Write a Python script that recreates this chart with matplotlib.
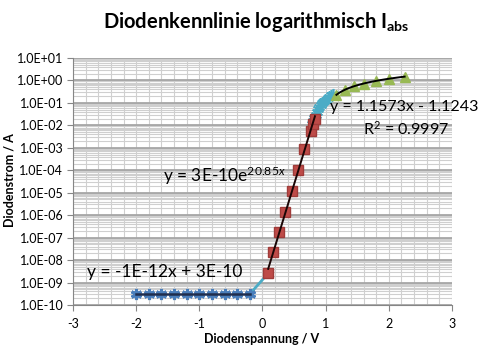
import numpy as np
import matplotlib
matplotlib.use("Agg")
import matplotlib.pyplot as plt
from matplotlib.ticker import LogLocator, FixedLocator, NullFormatter

plt.rcParams['font.family'] = ['Lato', 'DejaVu Sans']
plt.rcParams['mathtext.fontset'] = 'custom'
plt.rcParams['mathtext.rm'] = 'Lato'
plt.rcParams['mathtext.it'] = 'Lato:italic'
plt.rcParams['mathtext.bf'] = 'Lato:bold'

# Reverse region (blue stars)
blue_v = [-2.0, -1.8, -1.6, -1.4, -1.2, -1.0, -0.8, -0.6, -0.4, -0.2]
blue_i = [3.1e-10, 3.1e-10, 3.1e-10, 3.1e-10, 3.1e-10, 3.1e-10, 3.1e-10, 3.1e-10, 3.1e-10, 3.1e-10]

# Transition (cyan line segment)
cyan_seg_v = [-0.2, 0.09]
cyan_seg_i = [3.1e-10, 2.6e-9]

# Exponential region (red squares)
red_v = [0.09, 0.17, 0.26, 0.36, 0.46, 0.56, 0.66, 0.76, 0.80, 0.83]
red_i = [2.6e-9, 2.3e-8, 1.8e-7, 1.4e-6, 1.2e-5, 1.0e-4, 9.0e-4, 5.5e-3, 1.1e-2, 2.0e-2]

# Knee region (cyan stars)
cyan_v = [0.78, 0.80, 0.82, 0.84, 0.86, 0.88, 0.90, 0.92, 0.94, 0.96, 0.98, 1.00, 1.03, 1.06, 1.09, 1.12]
cyan_i = [0.012, 0.016, 0.022, 0.030, 0.040, 0.052, 0.065, 0.080, 0.095, 0.110, 0.125, 0.140, 0.165, 0.190, 0.215, 0.240]

# Ohmic region (green triangles)
green_v = [1.17, 1.3, 1.45, 1.6, 1.8, 2.0, 2.25]
green_i = [0.23, 0.38, 0.55, 0.73, 0.96, 1.19, 1.48]

yticks = [1e-10, 1e-9, 1e-8, 1e-7, 1e-6, 1e-5, 1e-4, 1e-3, 1e-2, 1e-1, 1e0, 1e1]
ylabels = ["1.0E-10", "1.0E-09", "1.0E-08", "1.0E-07", "1.0E-06", "1.0E-05",
           "1.0E-04", "1.0E-03", "1.0E-02", "1.0E-01", "1.0E+00", "1.0E+01"]
xticks = [-3, -2, -1, 0, 1, 2, 3]

W, H = 485, 345
fig = plt.figure(figsize=(W / 100, H / 100), dpi=100)
L, R, T, B = 73, 452, 58, 305
ax = fig.add_axes([L / W, 1 - B / H, (R - L) / W, (B - T) / H])

ax.set_yscale('log')
ax.set_xlim(-3, 3)
ax.set_ylim(1e-10, 1e1)

# grid
ax.yaxis.set_major_locator(FixedLocator(yticks))
ax.yaxis.set_minor_locator(LogLocator(base=10, subs=np.arange(2, 10), numticks=30))
ax.yaxis.set_minor_formatter(NullFormatter())
ax.set_yticks(yticks, ylabels)
ax.set_xticks(xticks, [str(t) for t in xticks])
ax.xaxis.set_minor_locator(FixedLocator(np.arange(-3, 3.01, 0.2)))
ax.grid(True, which='major', axis='y', color='#a6a6a6', linewidth=2.0)
ax.grid(True, which='minor', axis='y', color='#cfcfcf', linewidth=0.8)
ax.grid(True, which='minor', axis='x', color='#cfcfcf', linewidth=0.8)
ax.grid(True, which='major', axis='x', color='#cfcfcf', linewidth=0.8)
ax.set_axisbelow(True)

for s in ['top', 'right']:
    ax.spines[s].set_visible(False)
for s in ['left', 'bottom']:
    ax.spines[s].set_color('#868686')
    ax.spines[s].set_linewidth(0.8)
ax.tick_params(axis='both', which='major', length=4, color='#868686', labelsize=9, pad=3)
ax.tick_params(axis='both', which='minor', length=0)
ax.tick_params(axis='x', pad=5)

star = (6, 2, 0)
# series
ax.plot(cyan_seg_v, cyan_seg_i, color='#4bacc6', lw=2.0, zorder=3)
ax.plot(cyan_v, cyan_i, color='#4bacc6', lw=2.0, marker=star, ms=8, mew=1.2,
        mec='#4bacc6', zorder=3)
ax.plot(blue_v, blue_i, ls='none', marker=star, ms=8, mew=2.2, mec='#4a7ebb',
        color='#4a7ebb', zorder=4)
ax.plot(red_v, red_i, ls='none', marker='s', ms=6.5, color='#be4b48',
        mec='#a03c3a', zorder=4)
ax.plot(green_v, green_i, ls='none', marker='^', ms=6.5, color='#98b954',
        mec='#98b954', zorder=4)

# trendlines fitted to the data
bv = np.array(blue_v); bi = np.array(blue_i)
pb = np.polyfit(bv, bi, 1)
xb = np.linspace(bv.min(), bv.max(), 50)
ax.plot(xb, np.polyval(pb, xb), color='#1f2d4d', lw=1.8, zorder=5)

rv = np.array(red_v); ri = np.array(red_i)
pr = np.polyfit(rv, np.log(ri), 1)
xr = np.linspace(rv.min(), rv.max(), 50)
ax.plot(xr, np.exp(np.polyval(pr, xr)), color='#1a0505', lw=1.4, zorder=5)

gv = np.array(green_v); gi = np.array(green_i)
pg = np.polyfit(gv, gi, 1)
xg = np.linspace(gv.min(), gv.max(), 50)
ax.plot(xg, np.polyval(pg, xg), color='black', lw=1.4, zorder=5)

def ftext(px, py, s, **kw):
    fig.text(px / W, 1 - py / H, s, **kw)

ftext(163, 176, 'y = 3E-10e$^{20.85x}$', fontsize=12.5, va='center', ha='left', zorder=6)
ftext(87, 272, 'y = -1E-12x + 3E-10', fontsize=12.5, va='center', ha='left', zorder=6)
ftext(330, 107, 'y = 1.1573x - 1.1243', fontsize=11.5, va='center', ha='left', zorder=6)
ftext(363, 129, 'R$^2$ = 0.9997', fontsize=11.5, va='center', ha='left', zorder=6)

ftext(256, 22, 'Diodenkennlinie logarithmisch I$_{\\mathbf{abs}}$', fontsize=14.5,
      fontweight='bold', va='center', ha='center')
ftext(262, 339, 'Diodenspannung / V', fontsize=9, fontweight='bold', va='center', ha='center')
ftext(10, 180, 'Diodenstrom / A', fontsize=9, fontweight='bold', va='center', ha='center',
      rotation=90)

fig.savefig('out.png', dpi=100)
